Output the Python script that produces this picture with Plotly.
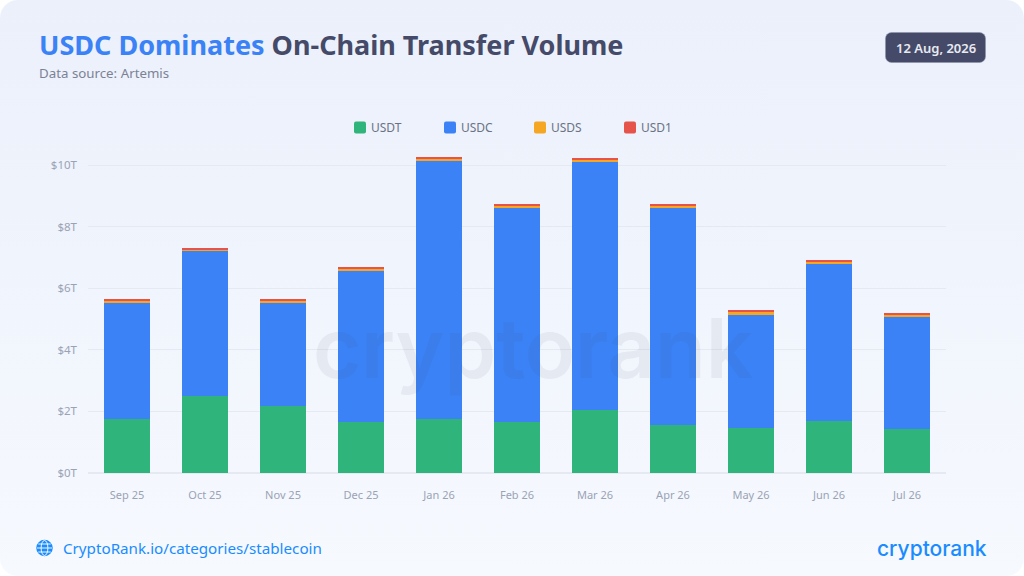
import base64
import plotly.graph_objects as go

months = ['Sep 25', 'Oct 25', 'Nov 25', 'Dec 25', 'Jan 26', 'Feb 26', 'Mar 26', 'Apr 26', 'May 26', 'Jun 26', 'Jul 26']
usdt = [1.75, 2.50, 2.17, 1.66, 1.75, 1.66, 2.05, 1.56, 1.46, 1.69, 1.43]
usdc = [3.77, 4.70, 3.35, 4.90, 8.38, 6.94, 8.05, 7.04, 3.67, 5.10, 3.63]
usds = [0.07, 0.07, 0.07, 0.07, 0.08, 0.08, 0.08, 0.10, 0.11, 0.08, 0.10]
usd1 = [0.03, 0.03, 0.03, 0.03, 0.03, 0.03, 0.02, 0.04, 0.03, 0.03, 0.03]
tick_vals = [0, 2, 4, 6, 8, 10]
tick_text = ['$0T', '$2T', '$4T', '$6T', '$8T', '$10T']

FONT = 'Noto Sans'
W, H = 1024, 576
L, R, T, B = 88, 78, 150, 103
PW, PH = W - L - R, H - T - B


# page pixels to paper coordinates of the plot area
def px(x):
    return (x - L) / PW


def py(y):
    return (H - B - y) / PH


# background card, date badge and globe icon
svg = f'''<svg xmlns="http://www.w3.org/2000/svg" width="{W}" height="{H}" viewBox="0 0 {W} {H}">
<defs><linearGradient id="g" x1="0" y1="0" x2="0" y2="1">
<stop offset="0" stop-color="#ebf0fb"/><stop offset="1" stop-color="#f6f9fe"/></linearGradient></defs>
<rect width="{W}" height="{H}" rx="18" fill="url(#g)"/>
<rect x="885.5" y="32.5" width="100" height="30" rx="6" fill="#454a68" stroke="#8f93a8" stroke-width="0.6"/>
<g fill="none" stroke="#1a8cff" stroke-width="1.5">
<circle cx="44.5" cy="548" r="7.5" fill="#1a8cff"/>
<ellipse cx="44.5" cy="548" rx="3.4" ry="7.5" stroke="#f5f8fe" stroke-width="1"/>
<path d="M37 548H52M38.3 544H50.7M38.3 552H50.7" stroke="#f5f8fe" stroke-width="1"/>
</g></svg>'''
bg_src = 'data:image/svg+xml;base64,' + base64.b64encode(svg.encode()).decode()

fig = go.Figure()
series = [('USDT', usdt, '#2fb57b'), ('USDC', usdc, '#3b82f6'), ('USDS', usds, '#f5a623'), ('USD1', usd1, '#e5534b')]
for name, vals, color in series:
    fig.add_trace(go.Bar(x=months, y=vals, name=name, marker_color=color, marker_line_width=0, width=0.6))

fig.update_layout(
    width=W, height=H, barmode='stack', showlegend=True,
    margin=dict(l=L, r=R, t=T, b=B),
    paper_bgcolor='white', plot_bgcolor='rgba(0,0,0,0)',
    font=dict(family=FONT, color='#9aa3b5', size=11),
    legend=dict(orientation='h', x=px(340), y=py(113), xanchor='left', yanchor='top',
                entrywidth=45, entrywidthmode='pixels', font=dict(size=12, color='#6b7285'),
                bgcolor='rgba(0,0,0,0)', traceorder='normal'),
    xaxis=dict(showgrid=False, showline=False, ticks='', ticklabelstandoff=14,
               tickfont=dict(size=11, color='#9aa3b5')),
    yaxis=dict(range=[0, PH / 30.8], tickvals=tick_vals, ticktext=tick_text,
               gridcolor='#e4e9f2', gridwidth=1, zeroline=True, zerolinecolor='#e4e9f2', ticks='',
               ticklabelstandoff=10, tickfont=dict(size=11.5, color='#9aa3b5')),
    images=[dict(source=bg_src, xref='paper', yref='paper', x=px(0), y=py(0), sizex=W / PW, sizey=H / PH,
                 sizing='stretch', layer='below', xanchor='left', yanchor='top')],
    bargap=0.4,
)

texts = [
    dict(x=px(37), y=py(44.5), text='<span style="color:#3b82f6">USDC Dominates</span> On-Chain Transfer Volume',
         font=dict(size=27, color='#454a68', weight=700), xanchor='left'),
    dict(x=px(37), y=py(73), text='Data source: Artemis', font=dict(size=13.3, color='#7c8294'), xanchor='left'),
    dict(x=px(936), y=py(48), text='12 Aug, 2026', font=dict(size=13, color='#e8eaf2', weight=600), xanchor='center'),
    dict(x=px(61), y=py(548), text='CryptoRank.io/categories/stablecoin', font=dict(size=15.2, color='#1a8cff'), xanchor='left'),
    dict(x=px(932), y=py(548), text='cryptorank', font=dict(family='Inter', size=21, color='#1a8cff', weight=500), xanchor='center'),
    dict(x=px(533), y=py(348), text='cryptorank', font=dict(family='Inter', size=83, color='rgba(60,70,90,0.065)', weight=600), xanchor='center'),
]
for t in texts:
    fig.add_annotation(xref='paper', yref='paper', showarrow=False, yanchor='middle', **t)

# tighter legend text gap and rounded swatches, as in the original
post = """
document.body.style.margin='0';document.body.style.overflow='hidden';
document.querySelectorAll('.legendtext').forEach(t=>t.setAttribute('x','31'));
document.querySelectorAll('.legendpoints path').forEach(p=>p.setAttribute('d','M-4,-6H4A2,2 0 0 1 6,-4V4A2,2 0 0 1 4,6H-4A2,2 0 0 1 -6,4V-4A2,2 0 0 1 -4,-6Z'));
"""
fig.write_html('out.html', post_script=post, config=dict(displayModeBar=False))
